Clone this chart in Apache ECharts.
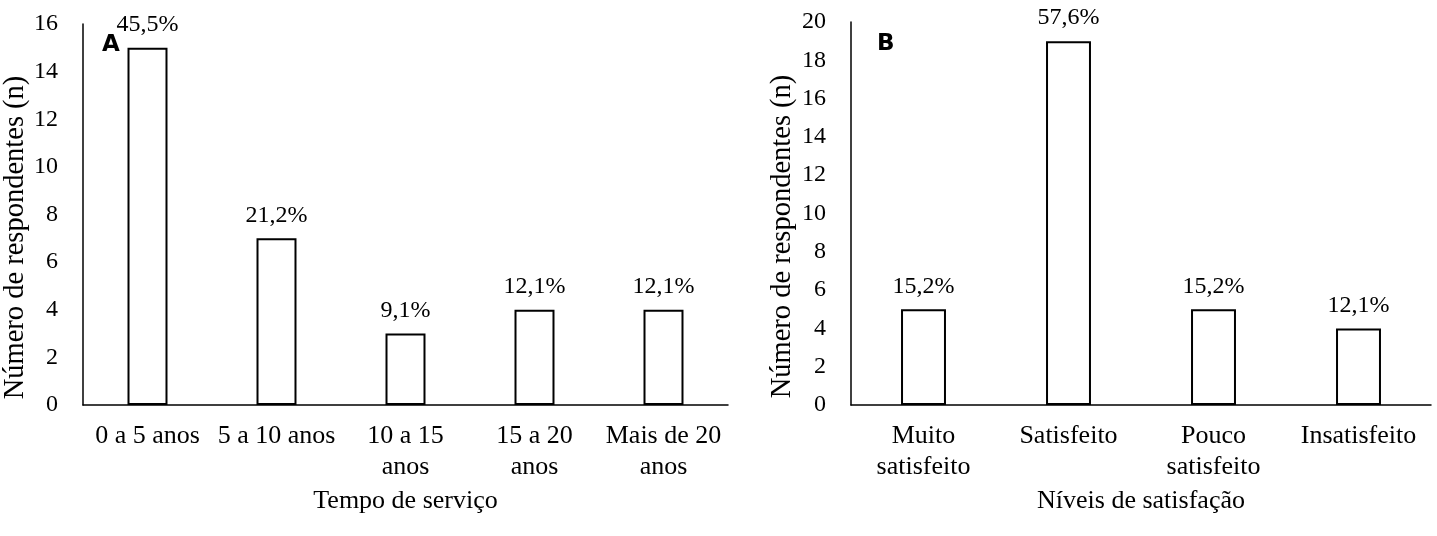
<!DOCTYPE html>
<html>
<head>
<meta charset="utf-8">
<script src="https://cdn.jsdelivr.net/npm/echarts@6/dist/echarts.min.js"></script>
<style>
html,body{margin:0;padding:0;background:#fff;}
#c{width:1437px;height:536px;}
</style>
</head>
<body>
<div id="c"></div>
<script>
const categoriesA = ['0 a 5 anos', '5 a 10 anos', '10 a 15\nanos', '15 a 20\nanos', 'Mais de 20\nanos'];
const valuesA = [15, 7, 3, 4, 4];
const pctA = ['45,5%', '21,2%', '9,1%', '12,1%', '12,1%'];

const categoriesB = ['Muito\nsatisfeito', 'Satisfeito', 'Pouco\nsatisfeito', 'Insatisfeito'];
const valuesB = [5, 19, 5, 4];
const pctB = ['15,2%', '57,6%', '15,2%', '12,1%'];

const yNameA = 'Número de respondentes (n)';
const yNameB = 'Número de respondentes (n)';
const xNameA = 'Tempo de serviço';
const xNameB = 'Níveis de satisfação';

const serif = '"Liberation Serif", "Times New Roman", serif';

function xAxis(idx, cats, name) {
  return {
    type: 'category', gridIndex: idx, data: cats,
    name: name, nameLocation: 'middle', nameGap: 80,
    nameTextStyle: {fontFamily: serif, fontSize: 26, color: '#000'},
    axisLine: {lineStyle: {color: '#000', width: 1.5}},
    axisTick: {show: false},
    axisLabel: {fontFamily: serif, fontSize: 26, color: '#000', margin: 16, lineHeight: 31, interval: 0}
  };
}
function yAxis(idx, max, name, gap) {
  return {
    type: 'value', gridIndex: idx, min: 0, max: max, interval: 2,
    name: name, nameLocation: 'middle', nameGap: gap,
    nameTextStyle: {fontFamily: serif, fontSize: 28.5, color: '#000', padding: [0, 46, 0, 0]},
    axisLine: {show: true, lineStyle: {color: '#000', width: 1.5}},
    axisTick: {show: false},
    splitLine: {show: false},
    axisLabel: {fontFamily: serif, fontSize: 24, color: '#000', margin: 25}
  };
}
function bars(idx, vals, pcts) {
  return {
    type: 'bar', xAxisIndex: idx, yAxisIndex: idx, data: vals, barWidth: '31%',
    itemStyle: {color: '#fff', borderColor: '#000', borderWidth: 2},
    label: {show: true, position: 'top', distance: 11,
      fontFamily: serif, fontSize: 24, color: '#000',
      formatter: p => pcts[p.dataIndex]},
    animation: false
  };
}

const chart = echarts.init(document.getElementById('c'));
chart.setOption({
  animation: false,
  backgroundColor: '#fff',
  grid: [
    {left: 83, right: 709, top: 24, bottom: 131},
    {left: 851, right: 6, top: 22, bottom: 131}
  ],
  xAxis: [xAxis(0, categoriesA, xNameA), xAxis(1, categoriesB, xNameB)],
  yAxis: [yAxis(0, 16, yNameA, 46), yAxis(1, 20, yNameB, 54)],
  series: [bars(0, valuesA, pctA), bars(1, valuesB, pctB)],
  graphic: [
    {type: 'text', left: 102, top: 34, style: {text: 'A', font: 'bold 23px "DejaVu Sans", sans-serif', fill: '#000'}},
    {type: 'text', left: 877, top: 33, style: {text: 'B', font: 'bold 23px "DejaVu Sans", sans-serif', fill: '#000'}}
  ]
});
</script>
</body>
</html>
